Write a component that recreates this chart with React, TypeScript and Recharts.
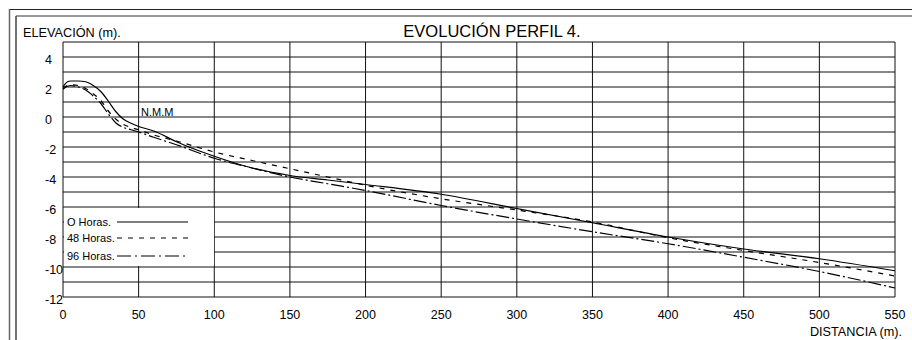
import { LineChart, Line, XAxis, YAxis, CartesianGrid, Legend } from "recharts";

// distancia (m) and elevación (m)
const distances = [0, 3, 5, 10, 15, 20, 25, 30, 35, 40, 45, 50, 60, 75, 100, 125, 150, 175, 200, 250, 300, 350, 400, 450, 500, 550];
const horas0 = [2.0, 2.35, 2.4, 2.4, 2.35, 2.1, 1.7, 1.05, 0.35, -0.15, -0.42, -0.63, -0.93, -1.65, -2.62, -3.4, -3.9, -4.2, -4.5, -5.15, -6.1, -7.05, -8.0, -8.8, -9.45, -10.25];
const horas48 = [1.9, 2.1, 2.15, 2.1, 1.9, 1.55, 1.1, 0.4, -0.15, -0.5, -0.7, -0.85, -1.2, -1.6, -2.33, -2.9, -3.45, -4.0, -4.55, -5.45, -6.2, -7.0, -8.05, -8.9, -9.7, -10.6];
const horas96 = [1.85, 2.05, 2.1, 2.0, 1.8, 1.4, 0.9, 0.2, -0.4, -0.7, -0.85, -1.0, -1.35, -1.85, -2.75, -3.4, -4.0, -4.45, -4.9, -5.9, -6.8, -7.65, -8.45, -9.35, -10.3, -11.4];

const seriesNames = ["O Horas.", "48 Horas.", "96 Horas."];
const seriesDash = ["", "5 6", "13 3 2 3"];
const legendDash = ["", "5 6", "14 4 2 4"];

const xTicks = [0, 50, 100, 150, 200, 250, 300, 350, 400, 450, 500, 550];
const yTicks = [-12, -11, -10, -9, -8, -7, -6, -5, -4, -3, -2, -1, 0, 1, 2, 3, 4, 5];
const yLabels = [-12, -10, -8, -6, -4, -2, 0, 2, 4];

const rows = distances.map((d, i) => ({
  d,
  h0: horas0[i],
  h48: horas48[i],
  h96: horas96[i],
}));
const keys = ["h0", "h48", "h96"];

const FONT = "'Liberation Sans', Arial, sans-serif";

const XTick = (props: any) => (
  <text x={props.x} y={props.y + 21.5} textAnchor="middle" fontSize={12.5} fontFamily={FONT} fill="#000">
    {props.payload.value}
  </text>
);

const YTick = (props: any) => {
  if (!yLabels.includes(props.payload.value)) return <g />;
  return (
    <text x={45} y={props.y + 6.5} textAnchor="start" fontSize={12.5} fontFamily={FONT} fill="#000">
      {props.payload.value}
    </text>
  );
};

const LegendBox = () => (
  <svg width={150} height={58} style={{ display: "block", background: "#fff" }}>
    {seriesNames.map((name, i) => {
      const cy = [14, 30, 48][i];
      return (
        <g key={name}>
          <text x={3} y={cy + 4} fontSize={11} fontFamily={FONT} fill="#000">
            {name}
          </text>
          <line x1={53} x2={124} y1={cy} y2={cy} stroke="#000" strokeWidth={1.2} strokeDasharray={legendDash[i]} />
        </g>
      );
    })}
  </svg>
);

export default function App() {
  return (
    <div style={{ position: "absolute", left: 0, top: 0, width: 912, height: 340, background: "#fff", fontFamily: FONT }}>
      <LineChart width={912} height={340} data={rows} margin={{ top: 42, right: 17, bottom: 0, left: 45 }}>
        <CartesianGrid stroke="#111" strokeWidth={1} />
        <XAxis
          dataKey="d"
          type="number"
          domain={[0, 550]}
          ticks={xTicks}
          interval={0}
          axisLine={false}
          tickLine={false}
          tickSize={0}
          tickMargin={0}
          height={43}
          tick={<XTick />}
        />
        <YAxis
          type="number"
          domain={[-12, 5]}
          ticks={yTicks}
          interval={0}
          axisLine={false}
          tickLine={false}
          tickSize={0}
          tickMargin={0}
          width={18}
          tick={<YTick />}
        />
        <Legend
          layout="horizontal"
          verticalAlign="middle"
          align="center"
          content={() => <LegendBox />}
          wrapperStyle={{ left: 64, top: 207.5, width: 150, height: 58 }}
        />
        {keys.map((k, i) => (
          <Line
            key={k}
            dataKey={k}
            name={seriesNames[i]}
            type="monotone"
            stroke="#000"
            strokeWidth={1.2}
            strokeDasharray={seriesDash[i]}
            dot={false}
            activeDot={false}
            isAnimationActive={false}
          />
        ))}
      </LineChart>
      <svg width={912} height={340} style={{ position: "absolute", left: 0, top: 0, pointerEvents: "none" }}>
        <line x1={9} x2={912} y1={9.5} y2={9.5} stroke="#222" />
        <line x1={9.5} x2={9.5} y1={9} y2={340} stroke="#666" strokeWidth={1.5} />
        <line x1={16} x2={912} y1={16} y2={16} stroke="#777" strokeWidth={1.5} />
        <line x1={16} x2={16} y1={16} y2={340} stroke="#444" strokeWidth={1.5} />
        <text x={23} y={36.5} fontSize={12.7} fontFamily={FONT} fill="#000">
          ELEVACIÓN (m).
        </text>
        <text x={492} y={36.5} textAnchor="middle" fontSize={16.5} fontFamily={FONT} fill="#000">
          EVOLUCIÓN PERFIL 4.
        </text>
        <text x={141} y={115.5} fontSize={11} fontFamily={FONT} fill="#000">
          N.M.M
        </text>
        <text x={902} y={336} textAnchor="end" fontSize={12.7} fontFamily={FONT} fill="#000">
          DISTANCIA (m).
        </text>
      </svg>
    </div>
  );
}
